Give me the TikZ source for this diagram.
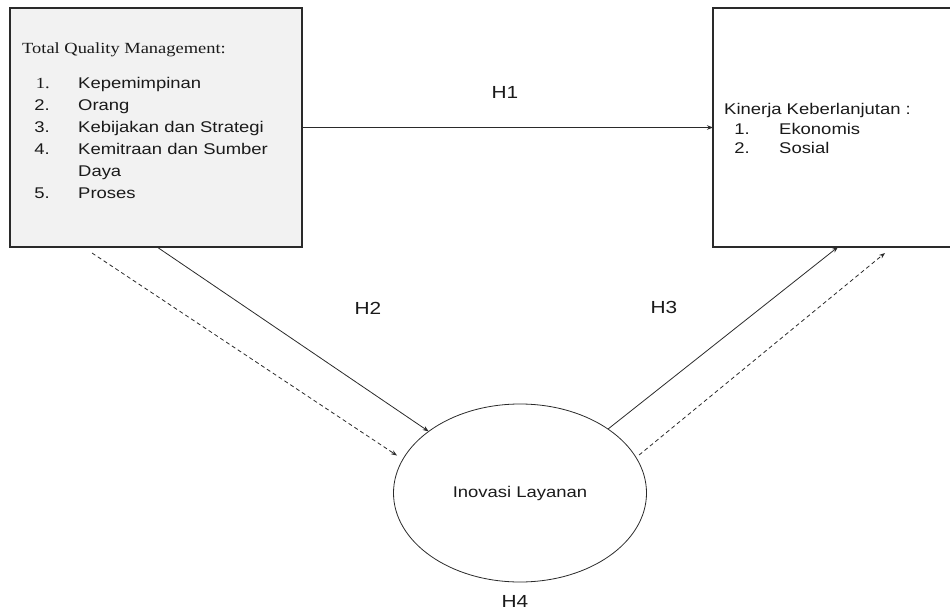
\documentclass[tikz,border=0pt]{standalone}
\usepackage{fontspec}
\setmainfont{Liberation Sans}[FakeStretch=1.19]
\newfontfamily\tnr{Liberation Serif}[FakeStretch=1.19]
\usetikzlibrary{arrows.meta,shapes.geometric}
\definecolor{ink}{HTML}{1A1A1A}
\definecolor{lineink}{HTML}{2A2A2A}
\definecolor{boxfill}{HTML}{F2F2F2}
\begin{document}
\begin{tikzpicture}[x=1pt,y=-1pt,
  font=\fontsize{15.5}{18}\selectfont, text=ink,
  box/.style={draw=lineink, line width=1.2pt, inner sep=0pt, outer sep=0pt, anchor=north west},
  txt/.style={inner sep=0pt, anchor=base west},
  num/.style={inner sep=0pt, anchor=base east},
  hlab/.style={inner sep=0pt, font=\fontsize{17.5}{20}\selectfont},
  arr/.style={draw=lineink, line width=0.8pt, -{Stealth[length=6pt,width=4.5pt]}},
  dasharr/.style={arr, dash pattern=on 4pt off 3pt}
]
\useasboundingbox (0,0) rectangle (950,612);
\clip (0,0) rectangle (950,612);
% boxes
\node[box, fill=boxfill, minimum width=292pt, minimum height=239pt] (tqm) at (10,8) {};
\node[box, draw=none, fill=white, minimum width=320pt, minimum height=239pt] (kb) at (713,8) {};
\draw[draw=lineink, line width=1.2pt] (kb.north east) -- (kb.north west) -- (kb.south west) -- (kb.south east);
\node[draw=lineink, line width=0.8pt, ellipse, outer sep=0pt, minimum width=253pt, minimum height=178pt] (inov) at (520,493) {Inovasi Layanan};
% left box text
\node[txt] (t0) at (22,53.3) {\tnr Total Quality Management:};
\node[num] (n1) at (50,88.3) {\tnr 1.};
\node[txt] (i1) at (78,88.3) {Kepemimpinan};
\node[num] (n2) at (50,111) {2.};
\node[txt] (i2) at (78,111) {Orang};
\node[num] (n3) at (50,132.8) {3.};
\node[txt] (i3) at (78,132.8) {Kebijakan dan Strategi};
\node[num] (n4) at (50,155) {4.};
\node[txt] (i4) at (78,155) {Kemitraan dan Sumber};
\node[txt] (i4b) at (78,177) {Daya};
\node[num] (n5) at (50,199) {5.};
\node[txt] (i5) at (78,199) {Proses};
% right box text
\node[txt] (k0) at (724,115) {Kinerja Keberlanjutan :};
\node[num] (m1) at (750,135) {1.};
\node[txt] (e1) at (779,135) {Ekonomis};
\node[num] (m2) at (750,153.5) {2.};
\node[txt] (e2) at (779,153.5) {Sosial};
% hypothesis labels
\node[hlab] (h1) at (505,92.5) {H1};
\node[hlab] (h2) at (368,308) {H2};
\node[hlab] (h3) at (664,307.5) {H3};
\node[hlab] (h4) at (515,601.5) {H4};
% connectors
\draw[arr] (tqm.east) -- (kb.west |- tqm.east);
\draw[arr] ([xshift=147pt]tqm.south west) -- (inov.146);
\draw[dasharr, shorten >=7pt] ([xshift=82pt,yshift=-6pt]tqm.south west) -- (inov.164);
\draw[arr] (inov.36) -- ([xshift=125pt]kb.south west);
\draw[dasharr, shorten <=4pt] (inov.17) -- ([xshift=172pt,yshift=-6pt]kb.south west);
\end{tikzpicture}
\end{document}
